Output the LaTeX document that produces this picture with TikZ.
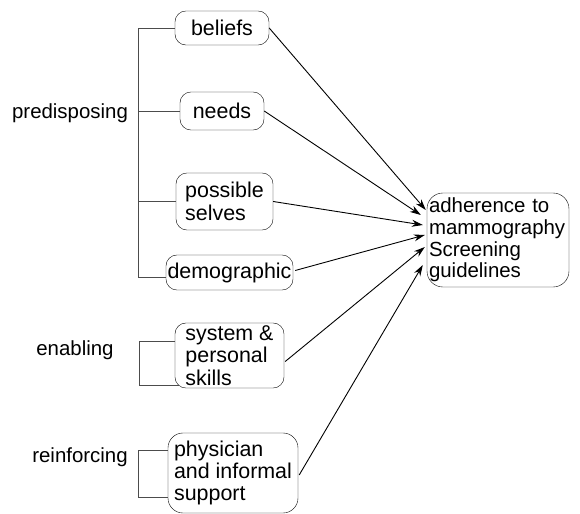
\documentclass[tikz,border=0pt]{standalone}
\usepackage{fontspec}
\setmainfont{Liberation Sans}
\usetikzlibrary{arrows.meta,positioning,calc}

\newcommand{\boxfont}{\fontsize{21.5}{22.5}\selectfont}
\newcommand{\goalfont}{\fontsize{20.5}{21.7}\selectfont}
\newcommand{\groupfont}{\fontsize{20.5}{22}\selectfont}

\begin{document}
\begin{tikzpicture}[x=1bp, y=-1bp,
  box/.style={draw, rounded corners=11pt, align=left, inner xsep=0pt, inner ysep=0pt, font=\boxfont},
  group/.style={font=\groupfont},
  tree/.style={draw=black!70, line width=0.6pt},
  link/.style={line width=0.9pt, -{Stealth[length=11bp, width=7bp]}}]
\useasboundingbox (0,0) rectangle (580,514);
% factor boxes
\node[box, minimum width=94bp, minimum height=34bp] (beliefs) at (222,28) {beliefs};
\node[box, minimum width=84bp, minimum height=38bp] (needs) at (222,111) {needs};
\node[box, minimum width=97bp, minimum height=57bp] (selves) at (224.5,201.5) {possible\\selves};
\node[box, minimum width=127bp, minimum height=35bp] (demo) at (229.5,272.5) {demographic};
\node[box, minimum width=109bp, minimum height=65bp] (skills) at (229.5,355.5) {system \&\\personal\\skills};
\node[box, rounded corners=15pt, minimum width=130bp, minimum height=80bp] (support) at (233,473) {physician\\and informal\\support};
\node[box, rounded corners=16pt, font=\goalfont, inner xsep=2pt, minimum width=142bp, minimum height=94bp, text width=138bp] (adh) at (498,240) {adherence to\\mammography\\Screening\\guidelines};
% group labels
\node[group] (pre) at (70,113) {predisposing};
\node[group] (ena) at (75,350) {enabling};
\node[group] (rei) at (80,457) {reinforcing};
% brackets
\coordinate (spine) at (138,0);
\draw[tree] (beliefs.west) -- (beliefs.west -| spine) -- ($(demo.west -| spine)+(0,4.5)$) -- ($(demo.west)+(0,4.5)$);
\draw[tree] (needs.west) -- (needs.west -| spine);
\draw[tree] (selves.west) -- (selves.west -| spine);
\draw[tree] ($(skills.west)+(0,-14.5)$) -| ($(skills.west -| spine)+(1,29.5)$) -- ($(skills.west)+(4,29.5)$);
\draw[tree] ($(support.west)+(0,-23)$) -| ($(support.west -| spine)+(0,24)$) -- ($(support.west)+(0,24)$);
% arrows into the outcome
\draw[link] (beliefs.east) -- ($(adh.west)+(-1,-30)$);
\draw[link] (needs.east) -- ($(adh.west)+(-6,-25)$);
\draw[link] (selves.east) -- ($(adh.west)+(-4,-15)$);
\draw[link] ($(demo.east)+(2,-2)$) -- ($(adh.west)+(-2,-5)$);
\draw[link] ($(skills.east)+(1,6)$) -- ($(adh.west)+(-2,7)$);
\draw[link] ($(support.east)+(1,2)$) -- ($(adh.west)+(-4,25)$);
\end{tikzpicture}
\end{document}
